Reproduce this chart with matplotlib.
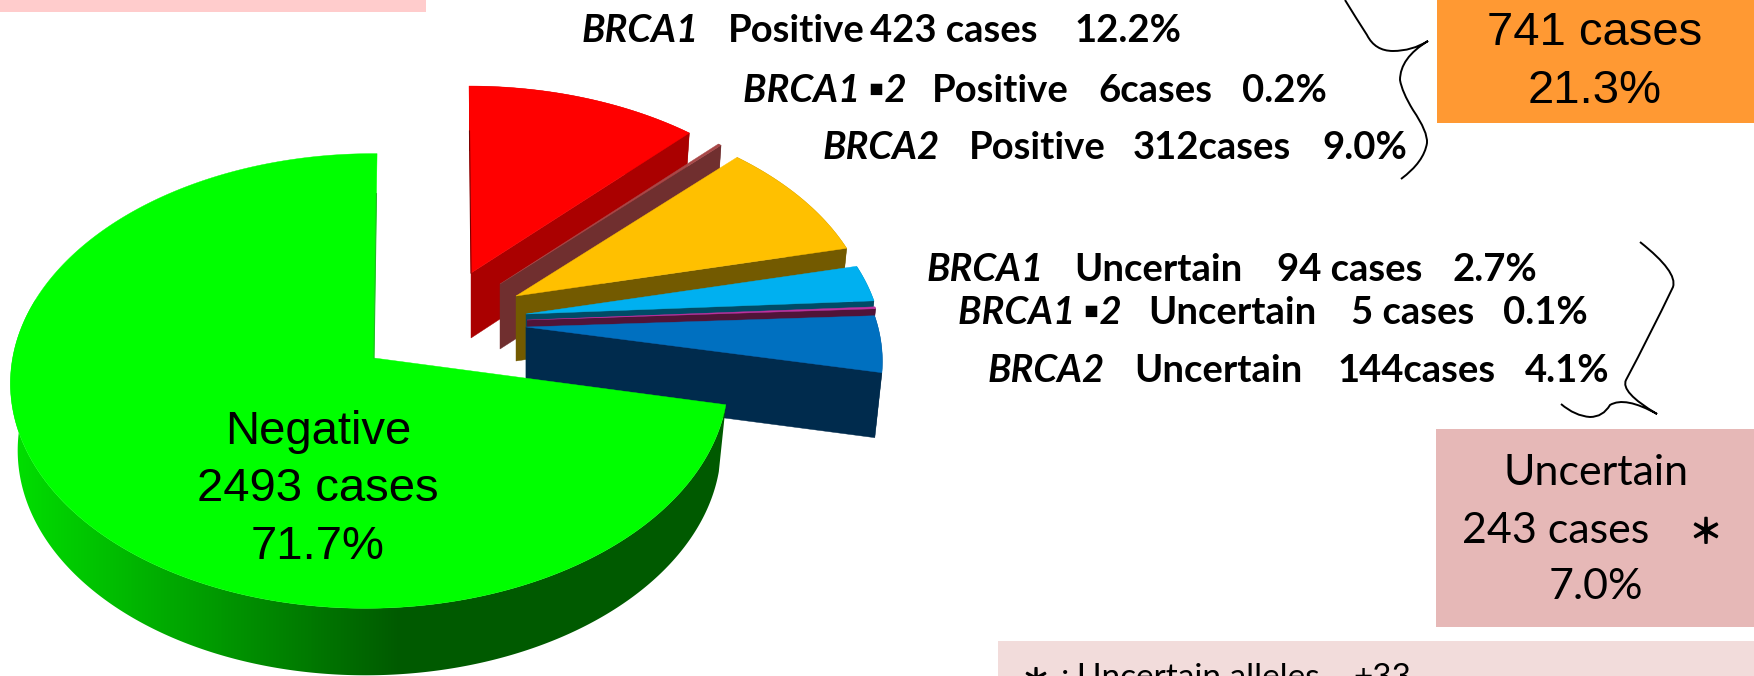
import numpy as np
import matplotlib
matplotlib.use('Agg')
import matplotlib.pyplot as plt
import matplotlib.patheffects as pe
from matplotlib.path import Path
from matplotlib.patches import PathPatch, Rectangle, Polygon
from matplotlib.colors import LinearSegmentedColormap

# slices, clockwise from 12 o'clock
cases = [423, 6, 312, 94, 5, 144, 2493]
top_colors = ['#FF0000', '#A84848', '#FFC000', '#00B0F0', '#C030A0', '#0070C0', '#00FF00']
wall_colors = ['#AA0000', '#702F2F', '#735A00', '#004B66', '#501438', '#002B4D', '#005C00']
# where the tip of each exploded slice ends up, in image pixels
apex_x = [471, 500, 516, 526, 527, 526, 374]
apex_y = [273, 284, 296, 314, 320, 327, 358]

genes = ['BRCA1', 'BRCA1 ▪2', 'BRCA2', 'BRCA1', 'BRCA1 ▪2', 'BRCA2']
status = ['Positive', 'Positive', 'Positive', 'Uncertain', 'Uncertain', 'Uncertain']
counts = ['423 cases', '6cases', '312cases', '94 cases', '5 cases', '144cases']
percents = ['12.2%', '0.2%', '9.0%', '2.7%', '0.1%', '4.1%']
row_y = [42, 102, 159, 281, 324, 382]
col_x = [[582, 728, 870, 1074],
         [743, 932, 1098, 1242],
         [823, 969, 1133, 1322],
         [927, 1074, 1277, 1453],
         [958, 1148, 1351, 1503],
         [988, 1134, 1337, 1525]]


def project(theta, a, b, k, m, shear):
    # pie plane seen in perspective, theta clockwise from the top
    u = np.sin(theta)
    v = np.cos(theta)
    w = 1 + k * v + m * u
    dy = -b * v / w
    return a * u / w + shear * dy, dy


def brace(ax, pts):
    # pts: start, then (control, end) pairs for quadratic curves
    codes = [Path.MOVETO] + [Path.CURVE3] * (len(pts) - 1)
    ax.add_patch(PathPatch(Path(pts, codes), fc='none', ec='black', lw=1.4, zorder=3))


def rim(ax, x0, y0, x1, y1, skip, color):
    # thin shaded line on the far cut edge, starting part way down it
    t = skip / (y1 - y0)
    ax.plot([x0 + (x1 - x0) * t, x1], [y0 + skip, y1], color=color, lw=0.8, zorder=1)


fig = plt.figure(figsize=(17.54, 6.76), dpi=100)
ax = fig.add_axes([0, 0, 1, 1])

# boxes
ax.add_patch(Rectangle((0, 0), 426, 12, fc='#FFCCCC', ec='none'))
ax.add_patch(Rectangle((1437, 0), 317, 123, fc='#FF9933', ec='none'))
ax.add_patch(Rectangle((1436, 429), 318, 198, fc='#E6B8B7', ec='none'))
ax.add_patch(Rectangle((998, 641), 756, 35, fc='#F2DCDB', ec='none'))

green_cmap = LinearSegmentedColormap.from_list('wall', ['#00E000', '#005A00'])

fractions = np.array(cases) / sum(cases)
edges = np.concatenate([[0], np.cumsum(fractions)]) * 2 * np.pi

for i in range(len(cases)):
    is_green = i == len(cases) - 1
    if is_green:
        params = (357, 225, 0.101, 0.012, -0.015)
        depth = 67
    else:
        params = (352, 215, 0.15, 0.0, 0.0106)
        depth = 65
    theta = np.linspace(edges[i], edges[i + 1], max(int((edges[i + 1] - edges[i]) * 120), 4))
    dx, dy = project(theta, *params)
    x = apex_x[i] + dx
    y = apex_y[i] + dy
    xb = apex_x[i] + dx * 0.98
    yb = y + depth

    outer = list(zip(x, y)) + list(zip(xb[::-1], yb[::-1]))
    if is_green:
        # outer wall, shaded from the left
        wall = Polygon(outer, fc='none', ec='none', zorder=1)
        ax.add_patch(wall)
        shade = np.clip((np.arange(0, 800) - 10) / 390, 0, 1).reshape(1, -1)
        im = ax.imshow(shade, cmap=green_cmap, extent=(0, 800, 676, 300), aspect='auto', zorder=1)
        im.set_clip_path(wall)
    else:
        ax.add_patch(Polygon(outer, fc=wall_colors[i], ec='none', zorder=1))
        side = [(apex_x[i], apex_y[i]), (x[-1], y[-1]), (xb[-1], yb[-1]), (apex_x[i], apex_y[i] + depth)]
        ax.add_patch(Polygon(side, fc=wall_colors[i], ec=wall_colors[i], lw=0.3, zorder=1))

    face = [(apex_x[i], apex_y[i])] + list(zip(x, y))
    ax.add_patch(Polygon(face, fc=top_colors[i], ec=top_colors[i], lw=0.3, zorder=1))
    if i == 0:
        rim(ax, x[0], y[0], apex_x[i], apex_y[i], 45, '#7A0000')
    if is_green:
        rim(ax, x[-1], y[-1], apex_x[i], apex_y[i], 40, '#22BB22')

ax.set_xlim(0, 1754)
ax.set_ylim(676, 0)
ax.axis('off')

# callout rows
row_font = ['Lato', 'DejaVu Sans']
for r in range(len(genes)):
    ax.text(col_x[r][0], row_y[r], genes[r], family=row_font, style='italic', weight='bold',
            fontsize=27.5, va='baseline', zorder=4)
    labels = [status[r], counts[r], percents[r]]
    for c in range(3):
        ax.text(col_x[r][c + 1], row_y[r], labels[c], family=row_font, weight='bold',
                fontsize=27.5, va='baseline', zorder=4)

arial = 'Liberation Sans'
for s, yy in zip(['Negative', '2493 cases', '71.7%'], [444, 501, 559]):
    ax.text(318, yy, s, family=arial, fontsize=34, ha='center', va='baseline', zorder=4)
for s, yy in zip(['741 cases', '21.3%'], [45, 103]):
    ax.text(1595, yy, s, family=arial, fontsize=34, ha='center', va='baseline', zorder=4)

for s, xx, yy in zip(['Uncertain', '243 cases', '7.0%'], [1596, 1556, 1596], [485, 543, 599]):
    ax.text(xx, yy, s, family='Lato', fontsize=31, ha='center', va='baseline', zorder=4)
star_font = ['Noto Sans CJK JP', 'DejaVu Sans']
bold_star = [pe.withStroke(linewidth=1.2, foreground='black')]
ax.text(1706, 543, '＊', family=star_font, fontsize=24, ha='center', va='baseline', zorder=4,
        path_effects=bold_star)

ax.text(1036, 689, '＊', family=star_font, fontsize=20, ha='center', va='baseline', zorder=4,
        path_effects=bold_star)
ax.text(1061, 687, ':', family='Lato', fontsize=24, va='baseline', zorder=4)
ax.text(1077, 687, 'Uncertain alleles', family='Lato', fontsize=24, va='baseline', zorder=4)
ax.text(1353, 687, '+33', family='Lato', fontsize=24, va='baseline', zorder=4)

# braces
brace(ax, [(1345, 0), (1356, 18), (1367, 35), (1375, 51), (1393, 51), (1412, 51), (1428, 41),
           (1400, 58), (1400, 80), (1402, 92), (1413, 110), (1428, 132), (1427, 143),
           (1424, 162), (1401, 179)])
brace(ax, [(1640, 242), (1678, 272), (1673, 287), (1650, 335), (1626, 380), (1620, 392), (1657, 414),
           (1625, 396), (1610, 405), (1603, 417), (1590, 417), (1575, 416), (1561, 404)])

fig.savefig('out.png', dpi=100)
